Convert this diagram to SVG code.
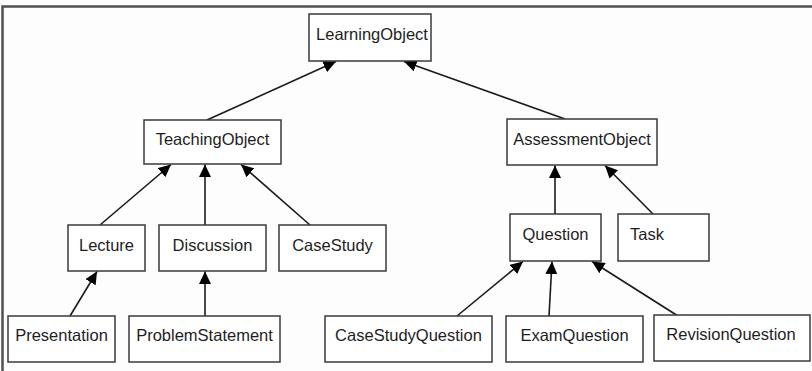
<svg xmlns="http://www.w3.org/2000/svg" width="812" height="371" viewBox="0 0 812 371">
<style>
.box{fill:#ffffff;stroke:#3a3a3a;stroke-width:1.5}
.lbl{font-family:"Liberation Sans",Arial,sans-serif;font-size:16.5px;fill:#1e1e1e;text-anchor:middle}
.edge{stroke:#1a1a1a;stroke-width:1.6;fill:none;marker-end:url(#tri)}
.frame{stroke:#505050;stroke-width:2.5;fill:none}
</style>
<defs>
<marker id="tri" markerUnits="userSpaceOnUse" markerWidth="13" markerHeight="12" refX="12.5" refY="6" orient="auto">
<path d="M0,0 L12.5,6 L0,12 z" fill="#000"/>
</marker>
</defs>
<rect x="0" y="0" width="812" height="371" fill="#fdfdfd"/>
<path class="frame" d="M2.5,371 V6.5 H812"/>
<g id="connectors">
<line class="edge" x1="207" y1="120" x2="336" y2="61.5"/>
<line class="edge" x1="565" y1="119" x2="404" y2="61.5"/>
<line class="edge" x1="100" y1="225" x2="171" y2="164.5"/>
<line class="edge" x1="205" y1="225" x2="205" y2="164.5"/>
<line class="edge" x1="310" y1="225" x2="241" y2="164.5"/>
<line class="edge" x1="70" y1="316" x2="97" y2="271.5"/>
<line class="edge" x1="205" y1="316" x2="205" y2="271.5"/>
<line class="edge" x1="555" y1="214" x2="555" y2="165.5"/>
<line class="edge" x1="653" y1="214" x2="605" y2="165.5"/>
<line class="edge" x1="457" y1="316" x2="523" y2="261.5"/>
<line class="edge" x1="549" y1="316" x2="552" y2="261.5"/>
<line class="edge" x1="678" y1="316" x2="592" y2="261.5"/>
</g>
<g id="LearningObject"><rect class="box" x="309" y="14" width="122" height="47"/><text class="lbl" x="372" y="39.5">LearningObject</text></g>
<g id="TeachingObject"><rect class="box" x="144" y="120" width="137" height="44"/><text class="lbl" x="212.5" y="145">TeachingObject</text></g>
<g id="AssessmentObject"><rect class="box" x="507" y="119" width="150" height="46"/><text class="lbl" x="582" y="145">AssessmentObject</text></g>
<g id="Lecture"><rect class="box" x="68" y="225" width="77" height="46"/><text class="lbl" x="106.5" y="251">Lecture</text></g>
<g id="Discussion"><rect class="box" x="159" y="225" width="107" height="46"/><text class="lbl" x="212.5" y="251">Discussion</text></g>
<g id="CaseStudy"><rect class="box" x="279" y="225" width="107" height="46"/><text class="lbl" x="332.5" y="251">CaseStudy</text></g>
<g id="Question"><rect class="box" x="510" y="214" width="91" height="47"/><text class="lbl" x="555.5" y="239.5">Question</text></g>
<g id="Task"><rect class="box" x="618" y="214" width="91" height="47"/><text class="lbl" x="630" y="239.5" style="text-anchor:start">Task</text></g>
<g id="Presentation"><rect class="box" x="8" y="316" width="107" height="46"/><text class="lbl" x="61.5" y="341">Presentation</text></g>
<g id="ProblemStatement"><rect class="box" x="129" y="316" width="151" height="46"/><text class="lbl" x="204.5" y="341">ProblemStatement</text></g>
<g id="CaseStudyQuestion"><rect class="box" x="325" y="316" width="167" height="46"/><text class="lbl" x="408.5" y="341">CaseStudyQuestion</text></g>
<g id="ExamQuestion"><rect class="box" x="506" y="316" width="137" height="46"/><text class="lbl" x="574.5" y="341">ExamQuestion</text></g>
<g id="RevisionQuestion"><rect class="box" x="654" y="315" width="156" height="46"/><text class="lbl" x="731" y="340">RevisionQuestion</text></g>
</svg>
